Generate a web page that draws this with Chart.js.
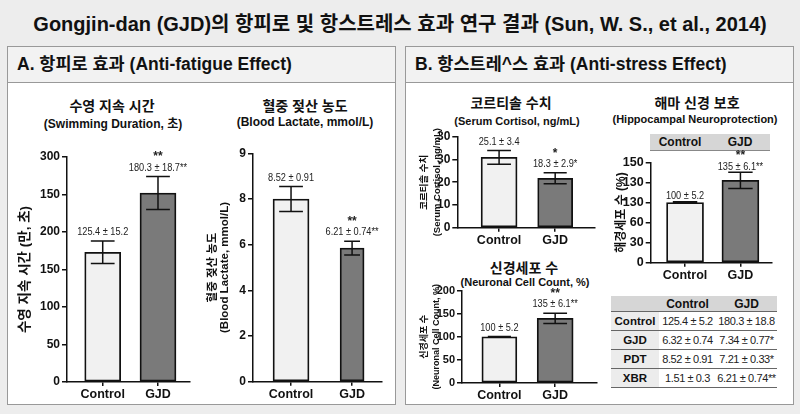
<!DOCTYPE html>
<html>
<head>
<meta charset="utf-8">
<script src="https://cdn.jsdelivr.net/npm/chart.js@4.4.0/dist/chart.umd.min.js"></script>
<style>
  html, body { margin: 0; padding: 0; background: #ededed; }
  #root { position: relative; width: 800px; height: 414px; overflow: hidden;
    font-family: "Liberation Sans", "Noto Sans CJK KR", sans-serif; color: #111; }
  .panel { position: absolute; top: 46px; height: 357px; width: 387px; background: #fff; border: 1px solid #999; }
  .panel .head { height: 35px; line-height: 35px; background: #f2f2f2; border-bottom: 1px solid #999;
    padding-left: 9px; font-weight: bold; font-size: 17.5px; }
  .t { position: absolute; transform: translate(-50%, -50%); white-space: nowrap; font-weight: bold; }
  .main { font-size: 20px; }
  .ct { font-size: 14px; }
  .cs { font-size: 12px; }
  .cs.b { font-size: 11px; }
  .cv { position: absolute; }
  .strip { position: absolute; left: 650px; top: 134px; width: 120px; height: 16px; background: #d6d6d6;
    border-bottom: 1px solid #888; font-size: 12px; font-weight: bold; }
  .strip span { position: absolute; top: 50%; transform: translate(-50%, -50%); }
  table { position: absolute; left: 611px; top: 296px; width: 166px; border-collapse: collapse;
    table-layout: fixed; font-size: 11px; letter-spacing: -0.4px; }
  th, td { text-align: center; padding: 0; border-bottom: 1px solid #666; white-space: nowrap; }
  thead th { background: #d6d6d6; height: 15px; font-size: 12px; letter-spacing: 0; }
  tbody td { height: 18px; color: #222; }
  tbody td:first-child { background: #ececec; font-weight: bold; font-size: 11.5px; color: #111; letter-spacing: 0; }
</style>
</head>
<body>
<div id="root">
  <div class="t main" style="left:400px; top:22px;">Gongjin-dan (GJD)의 항피로 및 항스트레스 효과 연구 결과 (Sun, W. S., et al., 2014)</div>

  <div class="panel" style="left:7px;"><div class="head">A. 항피로 효과 (Anti-fatigue Effect)</div></div>
  <div class="panel" style="left:405px;"><div class="head">B. 항스트레^스 효과 (Anti-stress Effect)</div></div>

  <div class="t ct" style="left:112px; top:105px;">수영 지속 시간</div>
  <div class="t cs" style="left:113px; top:122px;">(Swimming Duration, 초)</div>
  <div class="t ct" style="left:305px; top:105px;">혈중 젖산 농도</div>
  <div class="t cs" style="left:305px; top:122px;">(Blood Lactate, mmol/L)</div>
  <div class="t ct" style="left:511px; top:102px;">코르티솔 수치</div>
  <div class="t cs b" style="left:517px; top:121px;">(Serum Cortisol, ng/mL)</div>
  <div class="t ct" style="left:524px; top:267px;">신경세포 수</div>
  <div class="t cs b" style="left:525px; top:282px;">(Neuronal Cell Count, %)</div>
  <div class="t ct" style="left:697px; top:102px;">해마 신경 보호</div>
  <div class="t cs b" style="left:695px; top:119px;">(Hippocampal Neuroprotection)</div>

  <div class="strip"><span style="left:30px;">Control</span><span style="left:90px;">GJD</span></div>

  <div class="cv" style="left:8px; top:135px; width:187px; height:270px;"><canvas id="swim"></canvas></div>
  <div class="cv" style="left:198px; top:135px; width:195px; height:270px;"><canvas id="lact"></canvas></div>
  <div class="cv" style="left:407px; top:125px; width:193px; height:122px;"><canvas id="cort"></canvas></div>
  <div class="cv" style="left:407px; top:282px; width:193px; height:122px;"><canvas id="neuro"></canvas></div>
  <div class="cv" style="left:605px; top:146px; width:185px; height:141px;"><canvas id="hippo"></canvas></div>

  <table id="tbl">
    <colgroup><col style="width:48px"><col style="width:57px"><col style="width:61px"></colgroup>
    <thead><tr><th></th><th>Control</th><th>GJD</th></tr></thead><tbody></tbody>
  </table>
</div>

<script>
const groups = ["Control", "GJD"];

const swimValues = [173, 252];
const swimErrors = [15, 22];
const swimLabels = ["125.4 ± 15.2", "180.3 ± 18.7**"];
const swimStars = ["", "**"];
const swimTicks = ["0", "50", "100", "150", "200", "150", "300"];

const lactValues = [8.0, 5.85];
const lactErrors = [0.55, 0.3];
const lactLabels = ["8.52 ± 0.91", "6.21 ± 0.74**"];
const lactStars = ["", "**"];
const lactTicks = ["0", "2", "4", "6", "8", "9"];

const cortValues = [30.9, 21.7];
const cortErrors = [3.0, 2.4];
const cortLabels = ["25.1 ± 3.4", "18.3 ± 2.9*"];
const cortStars = ["", "*"];
const cortTicks = ["0", "10", "20", "30", "30"];

const neuroValues = [100, 140];
const neuroErrors = [1, 11];
const neuroLabels = ["100 ± 5.2", "135 ± 6.1**"];
const neuroStars = ["", "**"];
const neuroTicks = ["0", "50", "100", "150", "200"];

const hippoValues = [90, 123];
const hippoErrors = [1, 12];
const hippoLabels = ["100 ± 5.2", "135 ± 6.1**"];
const hippoStars = ["", "**"];
const hippoTicks = ["0", "30", "60", "130", "130", "150"];

const tableRows = ["Control", "GJD", "PDT", "XBR"];
const tableControl = ["125.4 ± 5.2", "6.32 ± 0.74", "8.52 ± 0.91", "1.51 ± 0.3"];
const tableGJD = ["180.3 ± 18.8", "7.34 ± 0.77*", "7.21 ± 0.33*", "6.21 ± 0.74**"];

const SANS = '"Liberation Sans", "Noto Sans CJK KR", sans-serif';
const barFills = ["#f1f1f1", "#7a7a7a"];
const INK = "#111";

// table under the hippocampus chart
const tbody = document.querySelector("#tbl tbody");
tableRows.forEach((r, i) => {
  const tr = document.createElement("tr");
  [r, tableControl[i], tableGJD[i]].forEach(txt => {
    const td = document.createElement("td");
    td.textContent = txt;
    tr.appendChild(td);
  });
  tbody.appendChild(tr);
});

// error bars + value text above each bar
const errorBars = {
  id: "errorBars",
  afterDatasetsDraw(chart, args, o) {
    const ctx = chart.ctx;
    const ys = chart.scales.y;
    chart.data.datasets.forEach((ds, i) => {
      const bar = chart.getDatasetMeta(i).data[0];
      if (!bar) return;
      const v = ds.data[0].y, e = o.errors[i];
      const top = ys.getPixelForValue(v + e);
      const bot = ys.getPixelForValue(v - e);
      const half = ds.barThickness * 0.33;
      ctx.save();
      ctx.strokeStyle = INK;
      ctx.lineWidth = 1.5;
      ctx.beginPath();
      ctx.moveTo(bar.x, top); ctx.lineTo(bar.x, bot);
      ctx.moveTo(bar.x - half, top); ctx.lineTo(bar.x + half, top);
      ctx.moveTo(bar.x - half, bot); ctx.lineTo(bar.x + half, bot);
      ctx.stroke();
      ctx.fillStyle = "#222";
      ctx.textAlign = "center";
      ctx.textBaseline = "middle";
      // condensed look for the value text
      ctx.save();
      ctx.translate(bar.x, top - o.gap);
      ctx.scale(0.8, 1);
      ctx.font = o.font + " " + SANS;
      ctx.fillText(o.labels[i], 0, 0);
      ctx.restore();
      if (o.stars[i]) {
        ctx.font = "bold 12px " + SANS;
        ctx.fillText(o.stars[i], bar.x, top - o.gap - 10.5);
      }
      ctx.restore();
    });
  }
};

function makeChart(id, c) {
  const datasets = groups.map((g, i) => ({
    label: g,
    data: [{ x: i, y: c.values[i] }],
    backgroundColor: barFills[i],
    borderColor: INK,
    borderWidth: 1.8,
    borderSkipped: false,
    barThickness: c.widths[i],
    grouped: false
  }));
  return new Chart(document.getElementById(id), {
    type: "bar",
    data: { datasets },
    options: {
      responsive: true,
      maintainAspectRatio: false,
      animation: false,
      layout: { padding: { left: 0, right: c.padR, top: c.padT, bottom: 0 }, autoPadding: false },
      plugins: {
        legend: { display: false },
        tooltip: { enabled: false },
        errorBars: { errors: c.errors, labels: c.labels, stars: c.stars, gap: c.gap || 9, font: "11.5px" }
      },
      scales: {
        x: {
          type: "linear",
          offset: false,
          min: c.xRange[0],
          max: c.xRange[1],
          afterBuildTicks: s => { s.ticks = groups.map((_, i) => ({ value: i })); },
          afterFit: s => { s.height = c.xH; },
          ticks: {
            callback: v => groups[v],
            font: { family: SANS, size: 12.5, weight: "bold" },
            color: INK, padding: 1, maxRotation: 0, autoSkip: false
          },
          grid: { offset: false, drawOnChartArea: false, tickLength: 4, color: INK, lineWidth: 1.5 },
          border: { color: INK, width: 1.5 }
        },
        y: {
          min: 0,
          max: c.step * (c.ticks.length - 1),
          afterBuildTicks: s => { s.ticks = c.ticks.map((_, i) => ({ value: i * c.step })); },
          afterFit: s => { s.width = c.yW; },
          ticks: {
            callback: v => c.ticks[Math.round(v / c.step)],
            font: { family: SANS, size: c.tickSize || 12, weight: "bold" },
            color: INK, padding: 2
          },
          grid: { drawOnChartArea: false, tickLength: 5, color: INK, lineWidth: 1.5 },
          border: { color: INK, width: 1.5 },
          title: {
            display: true,
            text: c.title,
            color: INK,
            font: { family: SANS, size: c.titleSize, weight: "bold", lineHeight: c.titleLH },
            padding: { top: c.titlePad, bottom: 0 }
          }
        }
      }
    },
    plugins: [errorBars]
  });
}

makeChart("swim", {
  values: swimValues, errors: swimErrors, labels: swimLabels, stars: swimStars,
  ticks: swimTicks, step: 50, widths: [36, 36],
  padR: 5, padT: 22, yW: 59, xH: 23, xRange: [-0.646, 1.579],
  title: "수영 지속 시간 (만, 초)", titleSize: 13.5, titleLH: "15px", titlePad: 9.5
});

makeChart("lact", {
  values: lactValues, errors: lactErrors, labels: lactLabels, stars: lactStars,
  ticks: lactTicks, step: 2, widths: [36, 24],
  padR: 11, padT: 18.3, yW: 55, xH: 23.3, xRange: [-0.623, 1.49],
  title: ["혈중 젖산 농도", "(Blood Lactate, mmol/L)"], titleSize: 11.5, titleLH: "12px", titlePad: 9.3
});

makeChart("cort", {
  values: cortValues, errors: cortErrors, labels: cortLabels, stars: cortStars,
  ticks: cortTicks, step: 10, widths: [36, 35],
  padR: 5, padT: 11.7, yW: 50.3, xH: 19.3, xRange: [-0.745, 1.71],
  title: ["코르티솔 수치", "(Serum Cortisol, ng/mL)"], titleSize: 9.5, titleLH: "13px", titlePad: 10.5
});

makeChart("neuro", {
  values: neuroValues, errors: neuroErrors, labels: neuroLabels, stars: neuroStars,
  ticks: neuroTicks, step: 50, widths: [35, 36], tickSize: 11,
  padR: 3, padT: 8.7, yW: 55, xH: 21, xRange: [-0.67, 1.75],
  title: ["신경세포 수", "(Neuronal Cell Count, %)"], titleSize: 9, titleLH: "11.5px", titlePad: 12.2
});

makeChart("hippo", {
  values: hippoValues, errors: hippoErrors, labels: hippoLabels, stars: hippoStars,
  ticks: hippoTicks, step: 30, widths: [37, 37], tickSize: 12.5,
  padR: 18, padT: 16.3, yW: 45.7, xH: 24.3, xRange: [-0.62, 1.57], gap: 6,
  title: "해경세포 수 (%)", titleSize: 12, titleLH: "14px", titlePad: 9.7
});
</script>
</body>
</html>
